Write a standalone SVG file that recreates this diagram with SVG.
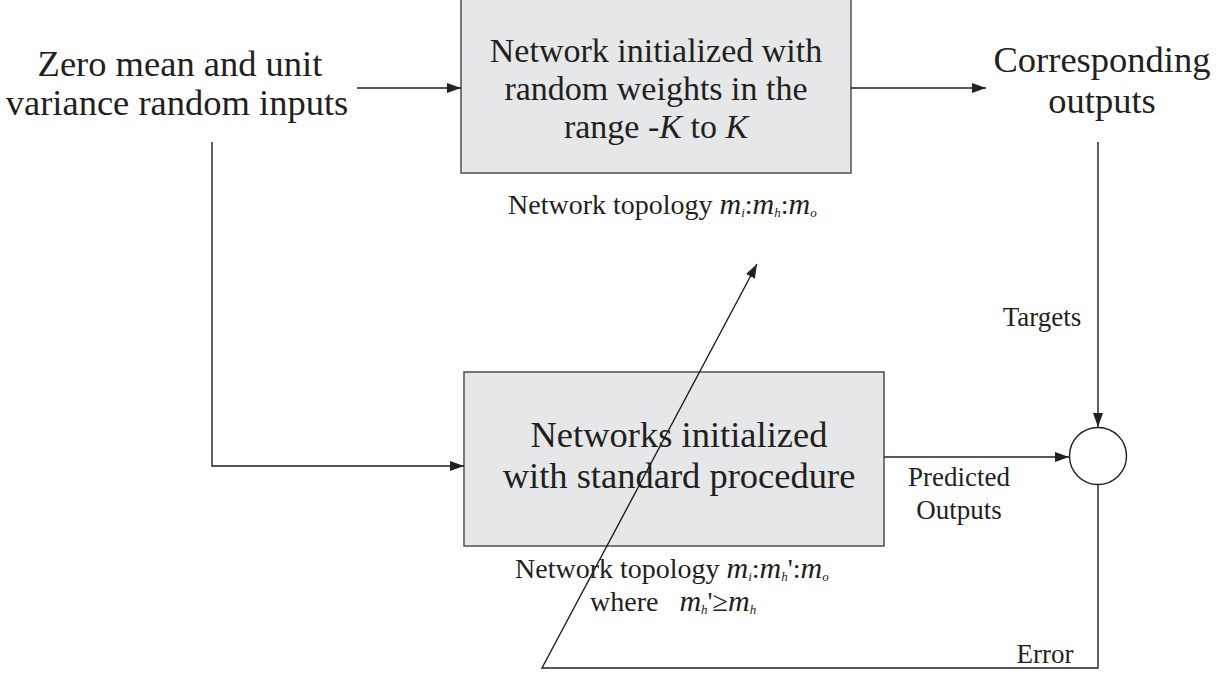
<svg xmlns="http://www.w3.org/2000/svg" width="1228" height="700" viewBox="0 0 1228 700">
<defs>
<style>
.t{font-family:"Liberation Serif","Times New Roman",serif;fill:#231f20}
.big{font-size:36.5px}
.mid{font-size:34px}
.sm{font-size:27px}
.tp{font-size:28px}
.it{font-style:italic}
.m{font-style:italic;font-size:30px}
.sub{font-style:italic;font-size:13px}
.box{fill:#e6e7e8;stroke:#58595b;stroke-width:1.6}
.ln{fill:none;stroke:#231f20;stroke-width:1.4}
</style>
<marker id="ah" viewBox="0 0 14 10" refX="14" refY="5" markerWidth="14" markerHeight="10" markerUnits="userSpaceOnUse" orient="auto">
<path d="M0,0 L14,5 L0,10 z" fill="#231f20"/>
</marker>
</defs>
<rect width="1228" height="700" fill="#fff"/>

<g id="inputs">
<text class="t big" x="180" y="76" text-anchor="middle">Zero mean and unit</text>
<text class="t big" x="177" y="115" text-anchor="middle">variance random inputs</text>
</g>

<g id="random-net">
<rect class="box" x="461" y="-2" width="390" height="175"/>
<text class="t mid" x="656" y="62" text-anchor="middle">Network initialized with</text>
<text class="t mid" x="656" y="100" text-anchor="middle">random weights in the</text>
<text class="t mid" x="656" y="138" text-anchor="middle">range -<tspan class="it">K</tspan> to <tspan class="it">K</tspan></text>
<text class="t tp" x="508" y="214">Network topology <tspan class="m">m</tspan><tspan class="sub" dy="3">i</tspan><tspan dy="-3">:</tspan><tspan class="m">m</tspan><tspan class="sub" dy="3">h</tspan><tspan dy="-3">:</tspan><tspan class="m">m</tspan><tspan class="sub" dy="3">o</tspan></text>
</g>

<g id="outputs">
<text class="t big" x="1102" y="72" text-anchor="middle">Corresponding</text>
<text class="t big" x="1102" y="113" text-anchor="middle">outputs</text>
</g>

<g id="standard-net">
<rect class="box" x="464" y="372" width="420" height="174"/>
<text class="t big" x="679" y="447" text-anchor="middle">Networks initialized</text>
<text class="t big" x="679" y="488" text-anchor="middle">with standard procedure</text>
<text class="t tp" x="515" y="578">Network topology <tspan class="m">m</tspan><tspan class="sub" dy="3">i</tspan><tspan dy="-3">:</tspan><tspan class="m">m</tspan><tspan class="sub" dy="3">h</tspan><tspan dy="-3">':</tspan><tspan class="m">m</tspan><tspan class="sub" dy="3">o</tspan></text>
<text class="t tp" x="590" y="611">where <tspan dx="14" class="m">m</tspan><tspan class="sub" dy="3">h</tspan><tspan dy="-3">'≥</tspan><tspan class="m">m</tspan><tspan class="sub" dy="3">h</tspan></text>
</g>

<g id="sum">
<circle cx="1098" cy="456" r="28.5" fill="#fff" stroke="#231f20" stroke-width="1.4"/>
</g>

<g id="labels">
<text class="t sm" x="1042" y="326" text-anchor="middle">Targets</text>
<text class="t sm" x="959" y="486" text-anchor="middle">Predicted</text>
<text class="t sm" x="959" y="519" text-anchor="middle">Outputs</text>
<text class="t sm" x="1045" y="663" text-anchor="middle">Error</text>
</g>

<g id="connectors">
<path class="ln" d="M357,88 H461" marker-end="url(#ah)"/>
<path class="ln" d="M851,88 H986" marker-end="url(#ah)"/>
<path class="ln" d="M212,142 V466 H464" marker-end="url(#ah)"/>
<path class="ln" d="M884,457 H1069" marker-end="url(#ah)"/>
<path class="ln" d="M1098,142 V427" marker-end="url(#ah)"/>
<path class="ln" d="M1098,485 V668 H542 L757,264" marker-end="url(#ah)"/>
</g>
</svg>
